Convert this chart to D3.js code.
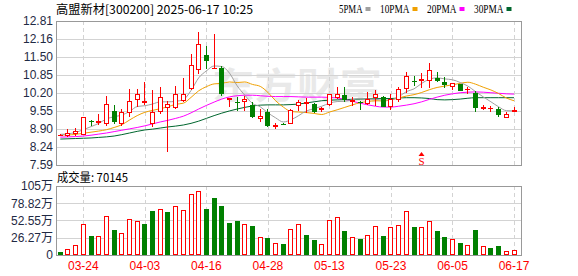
<!DOCTYPE html>
<html><head><meta charset="utf-8">
<script src="https://cdn.jsdelivr.net/npm/d3@7/dist/d3.min.js"></script>
<style>body{margin:0;background:#fff}svg{display:block}</style>
</head><body><svg id="c" width="578" height="276"></svg>
<script>
const title = "高盟新材[300200] 2025-06-17 10:25";
const volLabel = "成交量: 70145";
const watermark = "东方财富";
const legendNames = ["5PMA", "10PMA", "20PMA", "30PMA"];
const dates = ["03-19","03-20","03-21","03-24","03-25","03-26","03-27","03-28","03-31","04-01",
"04-02","04-03","04-07","04-08","04-09","04-10","04-11","04-14","04-15","04-16",
"04-17","04-18","04-21","04-22","04-23","04-24","04-25","04-28","04-29","04-30",
"05-06","05-07","05-08","05-09","05-12","05-13","05-14","05-15","05-16","05-19",
"05-20","05-21","05-22","05-23","05-26","05-27","05-28","05-29","05-30","06-03",
"06-04","06-05","06-06","06-09","06-10","06-11","06-12","06-13","06-16","06-17"];
const open = [8.67,8.64,8.70,8.68,9.17,9.14,9.07,9.55,9.07,9.49,
9.95,9.88,9.07,9.50,9.65,9.65,9.91,10.34,11.03,11.58,
11.09,11.09,9.94,9.89,9.86,9.77,9.25,9.51,8.97,9.06,
9.07,9.72,9.79,9.79,9.63,9.77,10.03,10.12,9.86,9.86,
9.79,10.03,10.07,9.71,9.95,10.35,10.65,10.62,10.64,10.73,
10.60,10.42,10.52,10.33,10.19,9.61,9.64,9.61,9.28,9.54];
const high = [8.70,8.89,8.92,9.33,9.22,9.43,10.09,9.76,9.61,10.34,
10.34,10.59,10.30,10.42,9.90,10.45,10.73,11.62,12.40,11.91,
12.34,11.19,10.03,10.07,10.08,9.86,9.62,9.61,9.12,9.12,
9.62,9.95,10.03,9.84,9.69,10.16,10.42,10.40,10.07,9.91,
10.25,10.32,10.09,10.16,10.41,10.97,10.82,10.91,11.30,10.97,
10.77,10.58,10.53,10.43,10.28,9.75,9.74,9.70,9.52,9.68];
const low = [8.65,8.62,8.64,8.66,9.01,9.04,9.02,9.09,9.02,9.34,
9.70,9.77,8.95,9.44,8.05,9.63,9.86,10.30,10.88,11.06,
11.08,10.10,9.70,9.55,9.55,9.29,9.16,8.98,8.88,9.04,
9.06,9.55,9.46,9.47,9.50,9.72,10.00,9.88,9.72,9.58,
9.77,9.74,9.68,9.60,9.89,10.21,10.46,10.37,10.37,10.59,
10.38,10.30,10.28,10.16,9.52,9.58,9.52,9.34,9.28,9.53];
const close = [8.68,8.74,8.82,9.33,9.15,9.20,9.79,9.16,9.52,9.90,
10.15,9.92,9.50,10.04,9.79,10.15,10.15,11.22,11.98,11.37,
11.12,10.15,10.01,9.82,9.98,9.32,9.37,9.01,9.05,9.04,
9.57,9.86,9.86,9.52,9.65,10.15,10.15,9.93,9.94,9.84,
9.98,10.17,9.70,9.99,10.34,10.82,10.63,10.70,11.03,10.63,
10.49,10.58,10.29,10.35,9.67,9.68,9.66,9.40,9.43,9.60];
const ma5 = [8.70,8.72,8.77,8.87,8.98,9.10,9.26,9.34,9.40,9.53,
9.71,9.74,9.80,9.88,9.88,9.90,9.96,10.29,10.75,11.00,
11.18,11.16,10.92,10.46,10.12,9.82,9.70,9.48,9.30,9.15,
9.23,9.38,9.55,9.63,9.72,9.83,9.89,9.90,9.96,10.00,
9.98,9.97,9.94,9.95,10.06,10.25,10.35,10.55,10.70,10.75,
10.71,10.68,10.58,10.45,10.25,10.06,9.88,9.70,9.56,9.55];
const ma10 = [8.68,8.68,8.70,8.74,8.78,8.82,8.87,8.95,9.05,9.22,
9.38,9.50,9.57,9.63,9.70,9.79,9.83,10.04,10.28,10.43,
10.53,10.55,10.60,10.58,10.60,10.51,10.44,10.22,9.92,9.69,
9.53,9.51,9.49,9.46,9.42,9.51,9.59,9.68,9.77,9.85,
9.89,9.92,9.91,9.95,10.02,10.09,10.14,10.22,10.32,10.40,
10.45,10.50,10.55,10.59,10.52,10.41,10.31,10.18,10.02,9.92];
const ma20 = [8.60,8.61,8.62,8.64,8.67,8.71,8.75,8.80,8.85,8.90,
8.95,9.01,9.08,9.15,9.21,9.28,9.36,9.48,9.62,9.75,
9.87,9.98,10.06,10.10,10.12,10.12,10.10,10.08,10.07,10.07,
10.07,10.06,10.05,10.05,10.05,10.04,10.02,9.97,9.90,9.83,
9.77,9.72,9.69,9.69,9.72,9.76,9.81,9.88,9.97,10.05,
10.12,10.17,10.21,10.23,10.24,10.23,10.21,10.19,10.17,10.16];
const ma30 = [8.53,8.54,8.55,8.56,8.57,8.59,8.61,8.64,8.69,8.75,
8.81,8.86,8.89,8.93,8.97,9.00,9.04,9.10,9.18,9.28,
9.38,9.47,9.55,9.62,9.68,9.73,9.76,9.77,9.77,9.77,
9.78,9.80,9.84,9.88,9.92,9.94,9.95,9.96,9.97,9.98,
9.99,9.99,10.00,10.00,10.02,10.03,10.03,10.02,10.00,9.96,
9.95,9.96,9.98,10.01,10.03,10.03,10.03,10.03,10.03,10.03];
// volume in 万 (10k) shares
const volume = [4.6,8.6,14.7,46.7,28.9,28.4,58.9,38.0,33.0,54.8,
51.3,47.2,67.0,70.0,65.4,74.0,68.5,92.4,97.0,70.0,
86.8,74.6,48.7,51.8,46.7,44.1,27.4,25.9,18.3,16.7,
39.0,46.7,30.4,22.8,16.2,52.8,57.4,36.5,27.4,24.4,
30.0,43.7,28.9,42.6,45.2,66.5,42.6,42.6,51.3,36.5,
27.4,23.9,18.3,14.7,37.6,13.7,10.7,13.7,5.6,7.0];
// 1 = close up vs previous close (red), 0 = down (green)
const volUp = [0,1,1,1,0,1,1,0,1,1,
1,0,0,1,0,1,1,1,1,0,
0,0,0,0,1,0,1,0,1,0,
1,1,0,0,1,1,1,0,1,0,
1,1,0,1,1,1,0,1,1,0,
0,1,0,1,0,1,0,0,1,1];
const priceTicks = ["12.81","12.16","11.50","10.85","10.20","9.55","8.90","8.24","7.59"];
const volTicks = ["105万","78.82万","52.55万","26.27万","0"];
const volTickValues = [105, 78.82, 52.55, 26.27, 0];
const dateTicks = ["03-24","04-03","04-16","04-28","05-13","05-23","06-05","06-17"];
const signalDates = ["05-29"];

const L = 56, R = 522, PT = 21, PB = 165, VT = 186, VB = 255;
const RED = "#ff0000", GRN = "#008000";
const maColors = ["#a0a0a0", "#f0a000", "#ff00ff", "#00662e"];
const svg = d3.select("#c");

const x = d3.scaleBand().domain(dates).range([56.45, 517.85]).padding(0);
const cx = d => x(d) + x.bandwidth() / 2;
const y = d3.scaleLinear().domain([7.59, 12.81]).range([PB, PT]);
const yv = d3.scaleLinear().domain([0, 105]).range([VB, VT]);

// watermark
svg.append("text").attr("x", 212).attr("y", 99).text(watermark)
  .attr("font-family", "Noto Sans CJK SC").attr("font-size", 36).attr("font-weight", "bold")
  .attr("fill", "#e9e9e9").attr("textLength", 170).attr("lengthAdjust", "spacingAndGlyphs");

// grid
const gridG = svg.append("g").attr("stroke", "#d3d3d3").attr("stroke-width", 1);
priceTicks.slice(1, -1).forEach(t => {
  const yy = Math.round(y(+t)) + 0.5;
  gridG.append("line").attr("x1", L).attr("x2", R).attr("y1", yy).attr("y2", yy);
});
volTickValues.slice(1, -1).forEach(v => {
  const yy = Math.round(yv(v)) + 0.5;
  gridG.append("line").attr("x1", L).attr("x2", R).attr("y1", yy).attr("y2", yy);
});
dateTicks.forEach(d => {
  const xx = Math.round(cx(d)) + 0.5;
  gridG.append("line").attr("x1", xx).attr("x2", xx).attr("y1", PT).attr("y2", PB).attr("stroke-dasharray", "4,3");
  gridG.append("line").attr("x1", xx).attr("x2", xx).attr("y1", VT).attr("y2", VB).attr("stroke-dasharray", "4,3");
});

// MA lines
const mas = [ma5, ma10, ma20, ma30];
const line = d3.line().x((d, i) => cx(dates[i])).y(d => y(d)).curve(d3.curveMonotoneX);
[3, 2, 1, 0].forEach(k => {
  svg.append("path").attr("d", line(mas[k])).attr("fill", "none")
    .attr("stroke", maColors[k]).attr("stroke-width", 1);
});

// candles
const cg = svg.append("g");
dates.forEach((d, i) => {
  const o = open[i], c = close[i], h = high[i], l = low[i];
  const bl = Math.round(cx(d) - 2.5);
  const wx = bl + 2.5;
  const yTop = Math.round(y(Math.max(o, c))), yBot = Math.round(y(Math.min(o, c)));
  const yH = Math.round(y(h)), yL = Math.round(y(l));
  if (c >= o) {
    if (yBot - yTop < 2) {
      cg.append("line").attr("x1", wx).attr("x2", wx).attr("y1", yH).attr("y2", yL).attr("stroke", RED);
      cg.append("rect").attr("x", bl).attr("y", yTop).attr("width", 5).attr("height", Math.max(1, yBot - yTop + 1)).attr("fill", RED);
    } else {
      cg.append("line").attr("x1", wx).attr("x2", wx).attr("y1", yH).attr("y2", yTop).attr("stroke", RED);
      cg.append("line").attr("x1", wx).attr("x2", wx).attr("y1", yBot).attr("y2", yL).attr("stroke", RED);
      cg.append("rect").attr("x", bl + 0.5).attr("y", yTop + 0.5).attr("width", 4).attr("height", yBot - yTop - 1)
        .attr("fill", "#fff").attr("stroke", RED).attr("stroke-width", 1);
    }
  } else {
    cg.append("line").attr("x1", wx).attr("x2", wx).attr("y1", yH).attr("y2", yL).attr("stroke", GRN);
    cg.append("rect").attr("x", bl).attr("y", yTop).attr("width", 5).attr("height", Math.max(1, yBot - yTop)).attr("fill", GRN);
  }
});

// volume bars
const vg = svg.append("g");
dates.forEach((d, i) => {
  const bl = Math.round(cx(d) - 2.5);
  const yt = Math.round(yv(volume[i]));
  if (volUp[i]) {
    vg.append("rect").attr("x", bl + 0.5).attr("y", yt + 0.5).attr("width", 4).attr("height", Math.max(0, VB - yt - 1))
      .attr("fill", "#fff").attr("stroke", RED);
  } else {
    vg.append("rect").attr("x", bl).attr("y", yt).attr("width", 5).attr("height", VB - yt).attr("fill", GRN);
  }
});

// frames
svg.append("rect").attr("x", L + 0.5).attr("y", PT + 0.5).attr("width", R - L - 1).attr("height", PB - PT)
  .attr("fill", "none").attr("stroke", "#999");
svg.append("rect").attr("x", L + 0.5).attr("y", VT + 0.5).attr("width", R - L - 1).attr("height", VB - VT)
  .attr("fill", "none").attr("stroke", "#999");

// axes
const axFont = "Liberation Sans, Arial, sans-serif";
const yAxis = d3.axisLeft(y).tickValues(priceTicks.map(Number)).tickFormat((d, i) => priceTicks[i]).tickSize(0).tickPadding(3);
const ga = svg.append("g").attr("transform", `translate(${L},0)`).call(yAxis);
const vAxis = d3.axisLeft(yv).tickValues(volTickValues).tickFormat((d, i) => volTicks[i]).tickSize(0).tickPadding(3);
const gv = svg.append("g").attr("transform", `translate(${L},0)`).call(vAxis);
const xAxis = d3.axisBottom(x).tickValues(dateTicks).tickSize(0).tickPadding(6);
const gx = svg.append("g").attr("transform", `translate(0,${VB})`).call(xAxis);
[ga, gv, gx].forEach(g => {
  g.select(".domain").remove();
  g.selectAll("text").attr("font-family", axFont).attr("font-size", 12).attr("fill", "#1f2a44");
});
gv.selectAll("text").attr("font-family", "Liberation Sans, 'Noto Sans CJK SC', sans-serif");
gx.selectAll("text").attr("fill", RED);

// title
svg.append("text").attr("x", 56).attr("y", 13.5).text(title)
  .attr("font-family", "'Noto Sans CJK SC', sans-serif").attr("font-size", 12).attr("fill", "#000")
  .attr("textLength", 197).attr("lengthAdjust", "spacingAndGlyphs");
svg.append("text").attr("x", 57).attr("y", 182).text(volLabel)
  .attr("font-family", "'Noto Sans CJK SC', sans-serif").attr("font-size", 12).attr("fill", "#000")
  .attr("textLength", 71).attr("lengthAdjust", "spacingAndGlyphs");

// legend
let lx = 339;
legendNames.forEach((n, k) => {
  const w = n.length * 6;
  svg.append("text").attr("x", lx).attr("y", 12.5).text(n)
    .attr("font-family", "'Liberation Serif', serif").attr("font-size", 12).attr("fill", "#000")
    .attr("textLength", w - 0.5).attr("lengthAdjust", "spacingAndGlyphs");
  svg.append("rect").attr("x", lx + w + 2.5).attr("y", 7).attr("width", 5).attr("height", 4).attr("fill", maColors[k]);
  lx += w + 17;
});

// sell signal marker
signalDates.forEach(d => {
  const sx = Math.round(cx(d)) - 0.5;
  svg.append("path").attr("d", `M${sx},152 L${sx - 3},156 L${sx + 3},156 Z`).attr("fill", RED);
  svg.append("text").attr("x", sx).attr("y", 165).attr("text-anchor", "middle").text("S")
    .attr("font-family", "'Liberation Serif', serif").attr("font-size", 11).attr("fill", RED);
});
</script></body></html>
